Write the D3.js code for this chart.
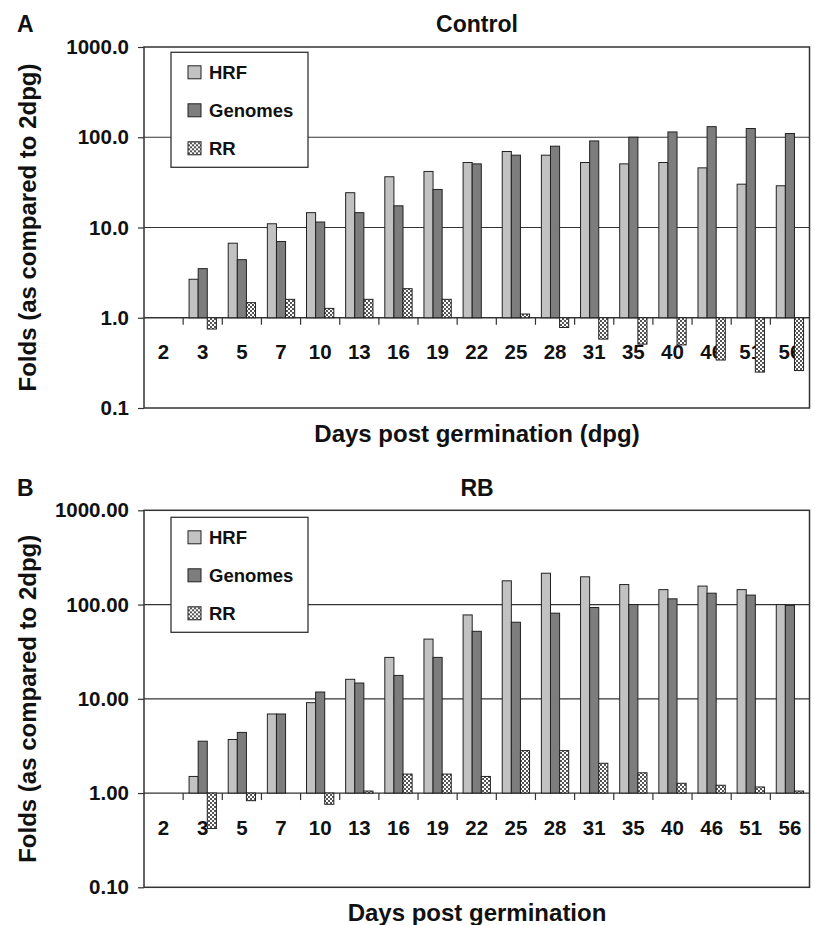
<!DOCTYPE html>
<html lang="en">
<head>
<meta charset="utf-8">
<title>HRF, Genomes and RR folds</title>
<script src="https://d3js.org/d3.v7.min.js"></script>
<style>
  body { margin: 0; background: #fff; }
  svg text { font-family: "Liberation Sans", Arial, Helvetica, sans-serif; font-weight: bold; fill: #111; }
</style>
</head>
<body>
<script>
// categories (days post germination) and series
const days = ["2","3","5","7","10","13","16","19","22","25","28","31","35","40","46","51","56"];
const seriesNames = ["HRF", "Genomes", "RR"];
const yTicks = [0.1, 1, 10, 100, 1000];

// panel A, Control
const controlHRF     = [1, 2.67, 6.7, 11.0, 14.6, 24.3, 36.5, 41.8, 52.5, 69.5, 63.3, 52.5, 50.7, 52.5, 45.8, 30.2, 29.0];
const controlGenomes = [1, 3.5, 4.4, 7.0, 11.5, 14.6, 17.4, 26.4, 50.7, 63.3, 79.6, 91.0, 100, 114.5, 131, 125, 110];
const controlRR      = [1, 0.75, 1.47, 1.6, 1.27, 1.6, 2.1, 1.6, 1.0, 1.1, 0.78, 0.58, 0.51, 0.50, 0.34, 0.25, 0.26];

// panel B, RB
const rbHRF     = [1, 1.5, 3.7, 6.9, 9.1, 16.1, 27.5, 43.0, 77.6, 178.6, 215, 197, 163, 144, 157, 144, 100];
const rbGenomes = [1, 3.55, 4.4, 6.9, 11.8, 14.7, 17.7, 27.5, 52.0, 64.9, 81.0, 93.0, 100, 115, 132, 126, 98];
const rbRR      = [1, 0.42, 0.83, 1.0, 0.76, 1.05, 1.59, 1.59, 1.5, 2.82, 2.82, 2.07, 1.64, 1.27, 1.21, 1.16, 1.05];

const W = 815, H = 925;
const svg = d3.select("body").append("svg").attr("width", W).attr("height", H);

// checkered fill for RR
const pat = svg.append("defs").append("pattern")
    .attr("id", "checker").attr("patternUnits", "userSpaceOnUse")
    .attr("width", 4).attr("height", 4);
pat.append("rect").attr("width", 4).attr("height", 4).attr("fill", "#fff");
pat.append("rect").attr("width", 2).attr("height", 2).attr("fill", "#555");
pat.append("rect").attr("x", 2).attr("y", 2).attr("width", 2).attr("height", 2).attr("fill", "#555");

const fills = { HRF: "#c2c2c2", Genomes: "#7d7d7d", RR: "url(#checker)" };

function drawPanel(p) {
    const g = svg.append("g");

    const x = d3.scaleBand().domain(days).range([144, 809.5]);
    const xs = d3.scaleBand().domain(seriesNames).range([0, x.bandwidth()]).paddingOuter(0.65);
    const y = d3.scaleLog().domain([0.1, 1000]).range([p.bottom, p.top]);

    // gridlines at 10 and 100
    g.selectAll(".grid").data([10, 100]).enter().append("line")
        .attr("x1", 144).attr("x2", 809.5)
        .attr("y1", d => y(d)).attr("y2", d => y(d))
        .attr("stroke", "#333").attr("stroke-width", 1.2);

    // plot frame
    g.append("rect")
        .attr("x", 144).attr("y", p.top)
        .attr("width", 809.5 - 144).attr("height", p.bottom - p.top)
        .attr("fill", "none").attr("stroke", "#333").attr("stroke-width", 1.5);

    // y axis
    const yAxis = d3.axisLeft(y).tickValues(yTicks).tickSize(6).tickPadding(9)
        .tickFormat(d3.format(p.fmt));
    const ya = g.append("g").attr("transform", "translate(144,0)").call(yAxis);
    ya.select(".domain").remove();
    ya.selectAll("line").attr("stroke", "#333").attr("stroke-width", 1.2);
    ya.selectAll("text").attr("font-size", 20.5).attr("fill", "#111");

    // category axis crossing at 1
    const xAxis = d3.axisBottom(x).tickSizeInner(0).tickSizeOuter(0).tickPadding(27);
    const xa = g.append("g").attr("transform", "translate(0," + y(1) + ")").call(xAxis);
    xa.select(".domain").remove();
    xa.selectAll("text").attr("font-size", 20.5).attr("fill", "#111");

    g.append("line")
        .attr("x1", 144).attr("x2", 809.5)
        .attr("y1", y(1)).attr("y2", y(1))
        .attr("stroke", "#333").attr("stroke-width", 1.3);
    g.selectAll(".xtick").data(days.slice(1)).enter().append("line")
        .attr("x1", d => x(d)).attr("x2", d => x(d))
        .attr("y1", y(1)).attr("y2", y(1) + 7)
        .attr("stroke", "#333").attr("stroke-width", 1.2);

    // bars
    const rows = [];
    seriesNames.forEach((s, si) => {
        p.values[si].forEach((v, i) => {
            if (v !== 1) rows.push({ day: days[i], series: s, value: v });
        });
    });
    g.selectAll(".bar").data(rows).enter().append("rect")
        .attr("x", d => x(d.day) + xs(d.series))
        .attr("width", xs.bandwidth())
        .attr("y", d => Math.min(y(d.value), y(1)))
        .attr("height", d => Math.abs(y(d.value) - y(1)))
        .attr("fill", d => fills[d.series])
        .attr("stroke", "#222").attr("stroke-width", 1);

    // legend
    const lg = g.append("g").attr("transform", "translate(171," + (p.top + p.legendOff) + ")");
    lg.append("rect").attr("width", 137).attr("height", 115)
        .attr("fill", "#fff").attr("stroke", "#333").attr("stroke-width", 1.3);
    const item = lg.selectAll(".item").data(seriesNames).enter().append("g")
        .attr("transform", (d, i) => "translate(17," + (20 + i * 38) + ")");
    item.append("rect").attr("x", 0).attr("y", -6.5).attr("width", 13).attr("height", 13)
        .attr("fill", d => fills[d]).attr("stroke", "#222").attr("stroke-width", 1);
    item.append("text").attr("x", 21).attr("dy", "0.36em")
        .attr("font-size", 18.5).text(d => d);

    // titles
    g.append("text").attr("x", 17).attr("y", p.letterY).attr("font-size", 23).text(p.letter);
    g.append("text").attr("x", 477).attr("y", p.letterY).attr("text-anchor", "middle")
        .attr("font-size", 23).text(p.title);
    g.append("text").attr("x", 477).attr("y", p.xTitleY).attr("text-anchor", "middle")
        .attr("font-size", 24).text(p.xTitle);
    g.append("text")
        .attr("transform", "translate(36," + ((p.top + p.bottom) / 2) + ") rotate(-90)")
        .attr("text-anchor", "middle").attr("font-size", 24)
        .text("Folds (as compared to 2dpg)");
}

drawPanel({
    top: 47, bottom: 408, fmt: ".1f", legendOff: 5.3,
    letter: "A", title: "Control", letterY: 32,
    xTitle: "Days post germination (dpg)", xTitleY: 442,
    values: [controlHRF, controlGenomes, controlRR]
});

drawPanel({
    top: 510.3, bottom: 887.3, fmt: ".2f", legendOff: 7,
    letter: "B", title: "RB", letterY: 496,
    xTitle: "Days post germination", xTitleY: 921,
    values: [rbHRF, rbGenomes, rbRR]
});
</script>
</body>
</html>
